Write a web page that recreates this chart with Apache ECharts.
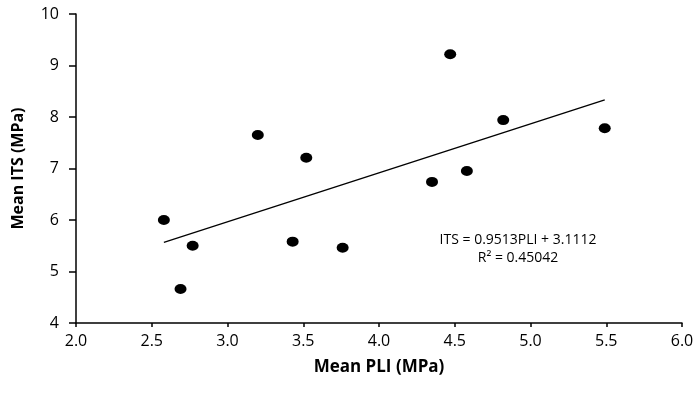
<!DOCTYPE html>
<html><head><meta charset="utf-8">
<script src="https://cdn.jsdelivr.net/npm/echarts@6/dist/echarts.min.js"></script>
<style>html,body{margin:0;padding:0;background:#fff}#c{width:700px;height:393px}</style>
</head><body><div id="c"></div>
<script>
const pli = [2.58, 2.69, 2.77, 3.20, 3.43, 3.52, 3.76, 4.35, 4.47, 4.58, 4.82, 5.49];
const its = [6.00, 4.66, 5.50, 7.65, 5.58, 7.21, 5.46, 6.74, 9.22, 6.95, 7.94, 7.78];
const slope = 0.9513;
const intercept = 3.1112;
const eqLine1 = 'ITS = 0.9513PLI + 3.1112';
const eqLine2 = 'R² = 0.45042';
const xTitle = 'Mean PLI (MPa)';
const yTitle = 'Mean ITS (MPa)';

const pts = pli.map((x, i) => [x, its[i]]);
const xMin = Math.min(...pli), xMax = Math.max(...pli);
const trend = [[xMin, slope * xMin + intercept], [xMax, slope * xMax + intercept]];
const font = '"Open Sans", "Liberation Sans", sans-serif';

const chart = echarts.init(document.getElementById('c'));
chart.setOption({
  animation: false,
  grid: { left: 76, right: 18, top: 14, bottom: 70 },
  xAxis: {
    type: 'value', min: 2, max: 6, interval: 0.5,
    name: xTitle, nameLocation: 'middle', nameGap: 36,
    nameTextStyle: { fontFamily: font, fontWeight: 'bold', fontSize: 17, color: '#000' },
    axisLine: { lineStyle: { color: '#000', width: 1.5 } },
    axisTick: { show: true, length: 4, lineStyle: { color: '#000', width: 1.5 } },
    axisLabel: { fontFamily: font, fontSize: 16, color: '#000', margin: 10,
      formatter: v => v.toFixed(1) },
    splitLine: { show: false }
  },
  yAxis: {
    type: 'value', min: 4, max: 10, interval: 1,
    name: yTitle, nameLocation: 'middle', nameGap: 50,
    nameTextStyle: { fontFamily: font, fontWeight: 'bold', fontSize: 16, color: '#000' },
    axisLine: { show: true, lineStyle: { color: '#000', width: 1.5 } },
    axisTick: { show: true, length: 7, lineStyle: { color: '#000', width: 1.5 } },
    axisLabel: { fontFamily: font, fontSize: 16, color: '#000', margin: 17 },
    splitLine: { show: false }
  },
  series: [
    { type: 'scatter', data: pts, symbol: 'circle', symbolSize: [12, 10],
      itemStyle: { color: '#000', opacity: 1 }, z: 3 },
    { type: 'line', data: trend, symbol: 'none',
      lineStyle: { color: '#000', width: 1.3 }, z: 2 }
  ],
  graphic: [
    { type: 'text', silent: true, x: 518, y: 231,
      style: { text: eqLine1 + '\n' + eqLine2, fill: '#000', font: '14px ' + font,
        textAlign: 'center', lineHeight: 18 } }
  ]
});
</script></body></html>
